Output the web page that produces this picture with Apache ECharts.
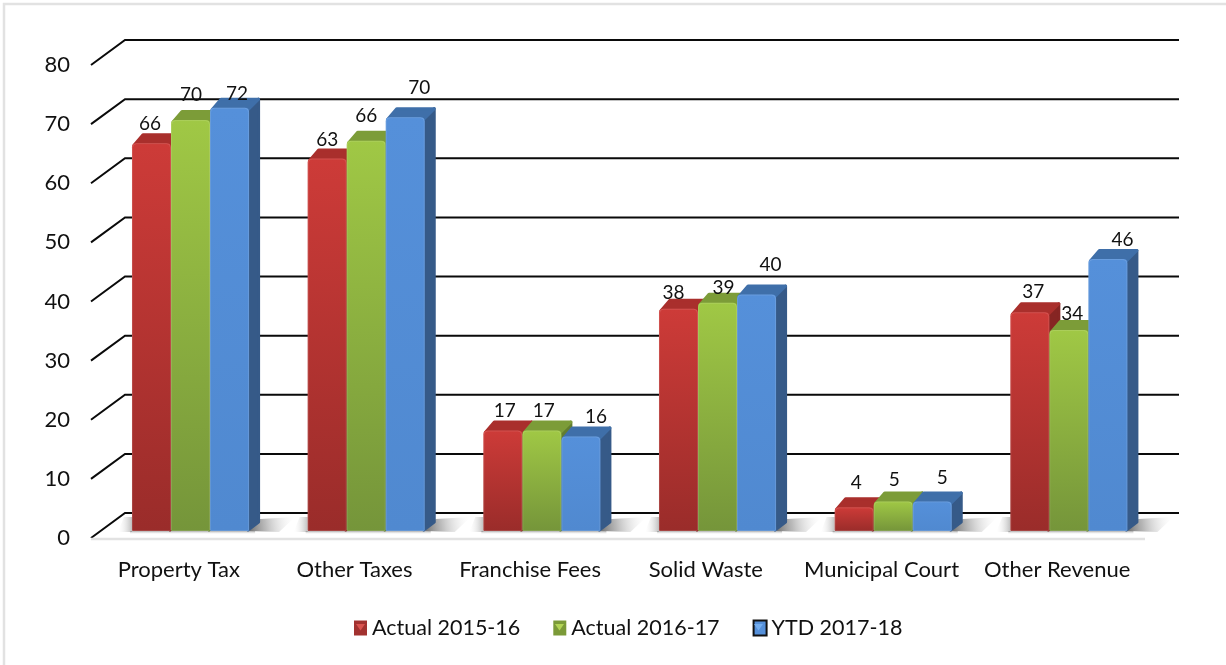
<!DOCTYPE html>
<html><head><meta charset="utf-8">
<style>html,body{margin:0;padding:0;background:#fff}#c{width:1226px;height:665px}</style>
<script src="https://cdn.jsdelivr.net/npm/echarts@6/dist/echarts.min.js"></script>
</head><body><div id="c"></div>
<script>
const categories = ['Property Tax','Other Taxes','Franchise Fees','Solid Waste','Municipal Court','Other Revenue'];
const seriesNames = ['Actual 2015-16','Actual 2016-17','YTD 2017-18'];
const actual1516 = [65.6, 63, 17, 37.6, 4, 37];
const actual1617 = [69.5, 66, 17, 38.6, 5, 34];
const ytd1718   = [71.6, 70, 16, 40, 5, 46];
const yTicks = [0,10,20,30,40,50,60,70,80];

const FONT = 'Lato';
const palettes = [
  {top:'#cd3b38',bot:'#9a2c2a',roof:'#a92f2c',side:'#862523'},
  {top:'#a0c845',bot:'#75953a',roof:'#7c9c38',side:'#627d2f'},
  {top:'#5590da',bot:'#5089d0',roof:'#3f6fa9',side:'#365a88'}
];
const SLOT = 0.2222, SHIFT_X = 11.7, LIFT = 7, DX = 11, DY = -10;
const nudges = [
  [[-1.5,-18.8],[0,-18.5],[2,-19.5],[-5,-16],[2,-24],[3.5,-20]],
  [[0.5,-25],[0,-25],[2,-19.5],[6,-14.5],[1,-22],[3.5,-16]],
  [[7.5,-14],[14,-29],[15,-20],[14,-30],[10,-24],[14.5,-19]]
];
function vGrad(a,b){return {type:'linear',x:0,y:0,x2:0,y2:1,colorStops:[{offset:0,color:a},{offset:1,color:b}]};}

function barItem(si){
  return function(params,api){
    const cat = api.value(0), val = api.value(1);
    const band = api.size([1,0])[0];
    const w = band*SLOT;
    const c = api.coord([cat,val]);
    const base = api.coord([cat,0]);
    const x0 = c[0]+SHIFT_X+(si-1.5)*w, x1 = x0+w;
    const yb = base[1]-LIFT, yt = c[1]-LIFT;
    const p = palettes[si];
    const ins = 1.5;
    const kids = [
      {type:'polygon',shape:{points:[[x1-1,yt+2],[x1+DX-ins,yt+DY+ins],[x1+DX-ins,yb+DY+1],[x1-1,yb-1]]},
        style:{fill:p.side,stroke:p.side,lineWidth:3,lineJoin:'round'}},
      {type:'polygon',shape:{points:[[x0+2,yt+2],[x0-DY+1,yt+DY+ins],[x1+DX-ins,yt+DY+ins],[x1-1,yt+2]]},
        style:{fill:p.roof,stroke:p.roof,lineWidth:3,lineJoin:'round'}},
      {type:'rect',shape:{x:x0,y:yt,width:w,height:yb-yt,r:[4,4,1,1]},style:{fill:vGrad(p.top,p.bot)}},
      {type:'rect',shape:{x:x0+.5,y:yt+.5,width:w-1,height:yb-yt-1,r:[4,4,1,1]},style:{fill:'none',stroke:'rgba(255,255,255,0.12)',lineWidth:1}},
      {type:'text',x:x0+w/2+nudges[si][cat][0],y:yt+nudges[si][cat][1],
       style:{text:String(Math.round(val)),fill:'#111',font:'19px '+FONT,align:'center',verticalAlign:'middle'},z2:50}
    ];
    return {type:'group',children:kids};
  };
}
function shadowItem(params,api){
  const cat = api.value(0);
  const band = api.size([1,0])[0];
  const w = band*SLOT;
  const c = api.coord([cat,0]);
  const x0 = c[0]+SHIFT_X-1.5*w, x1 = x0+3*w;
  const yb = c[1]-LIFT;
  return {type:'group',children:[
    {type:'polygon',shape:{points:[[x1,yb],[x1+DX,yb-12],[x1+46,yb-14],[x1+30,yb+1]]},
      style:{fill:{type:'linear',x:0,y:0.7,x2:1,y2:0.3,colorStops:[{offset:0,color:'rgba(90,90,90,.85)'},{offset:.35,color:'rgba(140,140,140,.6)'},{offset:1,color:'rgba(235,235,235,0)'}]}}},
    {type:'polygon',shape:{points:[[x0-14,yb+1],[x0-8,yb-14],[x0,yb-14],[x0,yb+1]]},
      style:{fill:{type:'linear',x:0,y:0,x2:1,y2:0,colorStops:[{offset:0,color:'rgba(235,235,235,0)'},{offset:1,color:'rgba(140,140,140,.55)'}]}}},
    {type:'rect',shape:{x:x0-2,y:yb,width:x1-x0+8,height:3},style:{fill:vGrad('rgba(120,120,120,.6)','rgba(200,200,200,0)')}}
  ]};
}
function gridItem(params,api){
  const cs = params.coordSys;
  const p = api.coord([0,api.value(0)]);
  const xl = cs.x, xr = cs.x+cs.width, y = p[1], bx = 34, by = -25;
  return {type:'polyline',shape:{points:[[xl,y],[xl+bx,y+by],[xr+bx,y+by]]},
    style:{fill:'none',stroke:'#0a0a0a',lineWidth:2}};
}
function floorItem(params,api){
  const cs = params.coordSys;
  const y = api.coord([0,0])[1];
  return {type:'line',shape:{x1:cs.x,y1:y+1,x2:cs.x+cs.width,y2:y+1},style:{stroke:'#e2e2e2',lineWidth:2.5}};
}
const allValues = [actual1516,actual1617,ytd1718];
const legendColors = ['#a23230','#7b9a38','#5590da'];
const legendGlow = ['#d9534f','#b2d455','#74aef0'];
const series = [
  {type:'custom',name:'grid',silent:true,coordinateSystem:'cartesian2d',z:1,data:yTicks.map(t=>[t]),encode:{y:0},renderItem:gridItem,clip:false},
  {type:'custom',name:'floor',silent:true,coordinateSystem:'cartesian2d',z:2,data:[[0]],encode:{y:0},renderItem:floorItem,clip:false},
  {type:'custom',name:'shadow',silent:true,coordinateSystem:'cartesian2d',z:3,data:categories.map((n,i)=>[i,0]),renderItem:shadowItem,clip:false}
];
allValues.forEach((vals,si)=>{
  series.push({type:'custom',name:seriesNames[si],coordinateSystem:'cartesian2d',z:10+si,
    data:vals.map((v,i)=>[i,v]),encode:{x:0,y:1},renderItem:barItem(si),clip:false,
    itemStyle:{color:palettes[si].top}});
});
const legendX = [354,553,752];
const chart = echarts.init(document.getElementById('c'),null,{renderer:'canvas'});
chart.setOption({
  animation:false,
  backgroundColor:'#fff',
  graphic:[
    {type:'polyline',z:-1,shape:{points:[[4,665],[4,4],[1226,4]]},style:{fill:'none',stroke:'#e2e2e2',lineWidth:2.5}}
  ].concat(legendX.map((x,i)=>({type:'polygon',z:100,shape:{points:[[x+2,624],[x+11,624],[x+6.5,630.5]]},style:{fill:legendGlow[i]}}))),
  grid:{left:91,right:81,top:65,bottom:127,containLabel:false},
  xAxis:{type:'category',data:categories,boundaryGap:true,
    axisLine:{show:false},axisTick:{show:false},splitLine:{show:false},
    axisLabel:{color:'#111',fontFamily:FONT,fontSize:22,margin:21,interval:0}},
  yAxis:{type:'value',min:0,max:80,interval:10,
    axisLine:{show:false},axisTick:{show:false},splitLine:{show:false},
    axisLabel:{color:'#111',fontFamily:FONT,fontSize:22,margin:21,lineHeight:26,padding:[4,0,0,0],verticalAlign:'middle'}},
  legend:{left:354,top:617,padding:0,itemWidth:13,itemHeight:15,itemGap:33,icon:'rect',
    textStyle:{color:'#111',fontFamily:FONT,fontSize:21.5},
    data:seriesNames.map((n,i)=>({name:n,itemStyle:{color:legendColors[i],borderColor:i===2?'#111':'transparent',borderWidth:i===2?2:0}}))},
  series
});
</script></body></html>
